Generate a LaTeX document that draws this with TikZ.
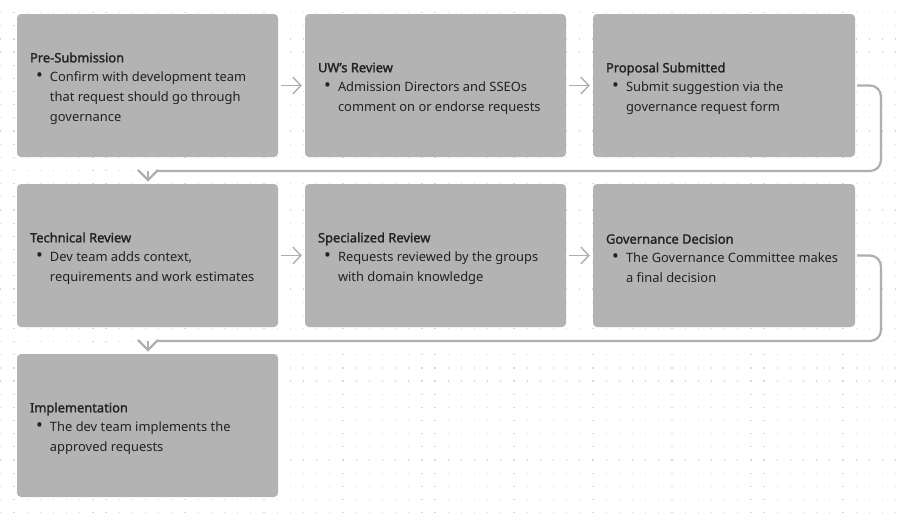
\documentclass[tikz,border=0pt]{standalone}
\usepackage{fontspec}
\setmainfont{Noto Sans}[BoldFont={Noto Sans},BoldFeatures={FakeBold=1.6}]
\usetikzlibrary{arrows.meta}
\definecolor{boxgray}{HTML}{B3B3B3}
\definecolor{linegray}{HTML}{AFAFAF}
\definecolor{dotgray}{HTML}{D8D8D8}
\definecolor{txt}{HTML}{222222}
\tikzset{
  stagebox/.style={fill=boxgray, rounded corners=4pt, draw=none, minimum height=143pt, inner sep=0pt},
  stagetext/.style={anchor=west, inner sep=0pt, align=left, font=\fontsize{12.9}{20}\selectfont, text=txt},
  flowarrow/.style={draw=linegray, line width=1.4pt, -{Straight Barb[length=8pt,width=17pt,line width=1.4pt]}},
  wrapline/.style={draw=linegray, line width=2.2pt, rounded corners=11pt},
  wraptip/.style={draw=linegray, line width=2.2pt, -{Straight Barb[length=10pt,width=20pt,line width=2.2pt]}},
}
\newcommand{\stitle}[1]{\textbf{#1}\\[-1pt]}
\newcommand{\sfirst}[1]{\hspace*{6pt}\makebox[14pt][l]{\raisebox{0.2pt}{\scalebox{1.4}{•}}}#1}
\newcommand{\snext}[1]{\\\hspace*{20pt}#1}
\begin{document}
\begin{tikzpicture}[x=1pt,y=-1pt]
\useasboundingbox (0,0) rectangle (902,515);
\fill[white] (0,0) rectangle (902,515);
% dot grid
\foreach \i in {0,...,68}{
  \foreach \j in {0,...,39}{
    \fill[dotgray] (0.8+13.16*\i-0.6, -0.56+13.16*\j-0.6) rectangle ++(1.2,1.2);
  }
}
% boxes
\node[stagebox, minimum width=261pt] (b1) at (147.5,85.5) {};
\node[stagebox, minimum width=261pt] (b2) at (435.5,85.5) {};
\node[stagebox, minimum width=262pt] (b3) at (724,85.5) {};
\node[stagebox, minimum width=261pt] (b4) at (147.5,255.5) {};
\node[stagebox, minimum width=261pt] (b5) at (435.5,255.5) {};
\node[stagebox, minimum width=262pt] (b6) at (724,255.5) {};
\node[stagebox, minimum width=261pt] (b7) at (147.5,425.5) {};
% texts
\node[stagetext] (t1) at ([xshift=13pt,yshift=-3pt]b1.west) {\stitle{Pre-Submission}\sfirst{Confirm with development team}\snext{that request should go through}\snext{governance}};
\node[stagetext] (t2) at ([xshift=13pt,yshift=-3pt]b2.west) {\stitle{UW’s Review}\sfirst{Admission Directors and SSEOs}\snext{comment on or endorse requests}};
\node[stagetext] (t3) at ([xshift=13pt,yshift=-3pt]b3.west) {\stitle{Proposal Submitted}\sfirst{Submit suggestion via the}\snext{governance request form}};
\node[stagetext] (t4) at ([xshift=13pt,yshift=-3pt]b4.west) {\stitle{Technical Review}\sfirst{Dev team adds context,}\snext{requirements and work estimates}};
\node[stagetext] (t5) at ([xshift=13pt,yshift=-3pt]b5.west) {\stitle{Specialized Review}\sfirst{Requests reviewed by the groups}\snext{with domain knowledge}};
\node[stagetext] (t6) at ([xshift=13pt,yshift=-3pt]b6.west) {\stitle{Governance Decision}\sfirst{The Governance Committee makes}\snext{a final decision}};
\node[stagetext] (t7) at ([xshift=13pt,yshift=-3pt]b7.west) {\stitle{Implementation}\sfirst{The dev team implements the}\snext{approved requests}};
% straight arrows
\draw[flowarrow] ([xshift=3pt]b1.east) -- ([xshift=-3pt]b2.west);
\draw[flowarrow] ([xshift=3pt]b2.east) -- ([xshift=-3pt]b3.west);
\draw[flowarrow] ([xshift=3pt]b4.east) -- ([xshift=-3pt]b5.west);
\draw[flowarrow] ([xshift=3pt]b5.east) -- ([xshift=-3pt]b6.west);
% wrap arrows
\coordinate (w1a) at (881,85.5);
\coordinate (w1b) at (881,171);
\coordinate (w1c) at (158,171);
\coordinate (w1d) at (148,171);
\coordinate (w1e) at (148,181.5);
\draw[wrapline] ([xshift=2pt]b3.east) -- (w1a) -- (w1b) -- (w1c);
\draw[wraptip] (w1d) -- (w1e);
\coordinate (w2a) at (881,255.5);
\coordinate (w2b) at (881,341);
\coordinate (w2c) at (158,341);
\coordinate (w2d) at (148,341);
\coordinate (w2e) at (148,351.5);
\draw[wrapline] ([xshift=2pt]b6.east) -- (w2a) -- (w2b) -- (w2c);
\draw[wraptip] (w2d) -- (w2e);
\end{tikzpicture}
\end{document}
